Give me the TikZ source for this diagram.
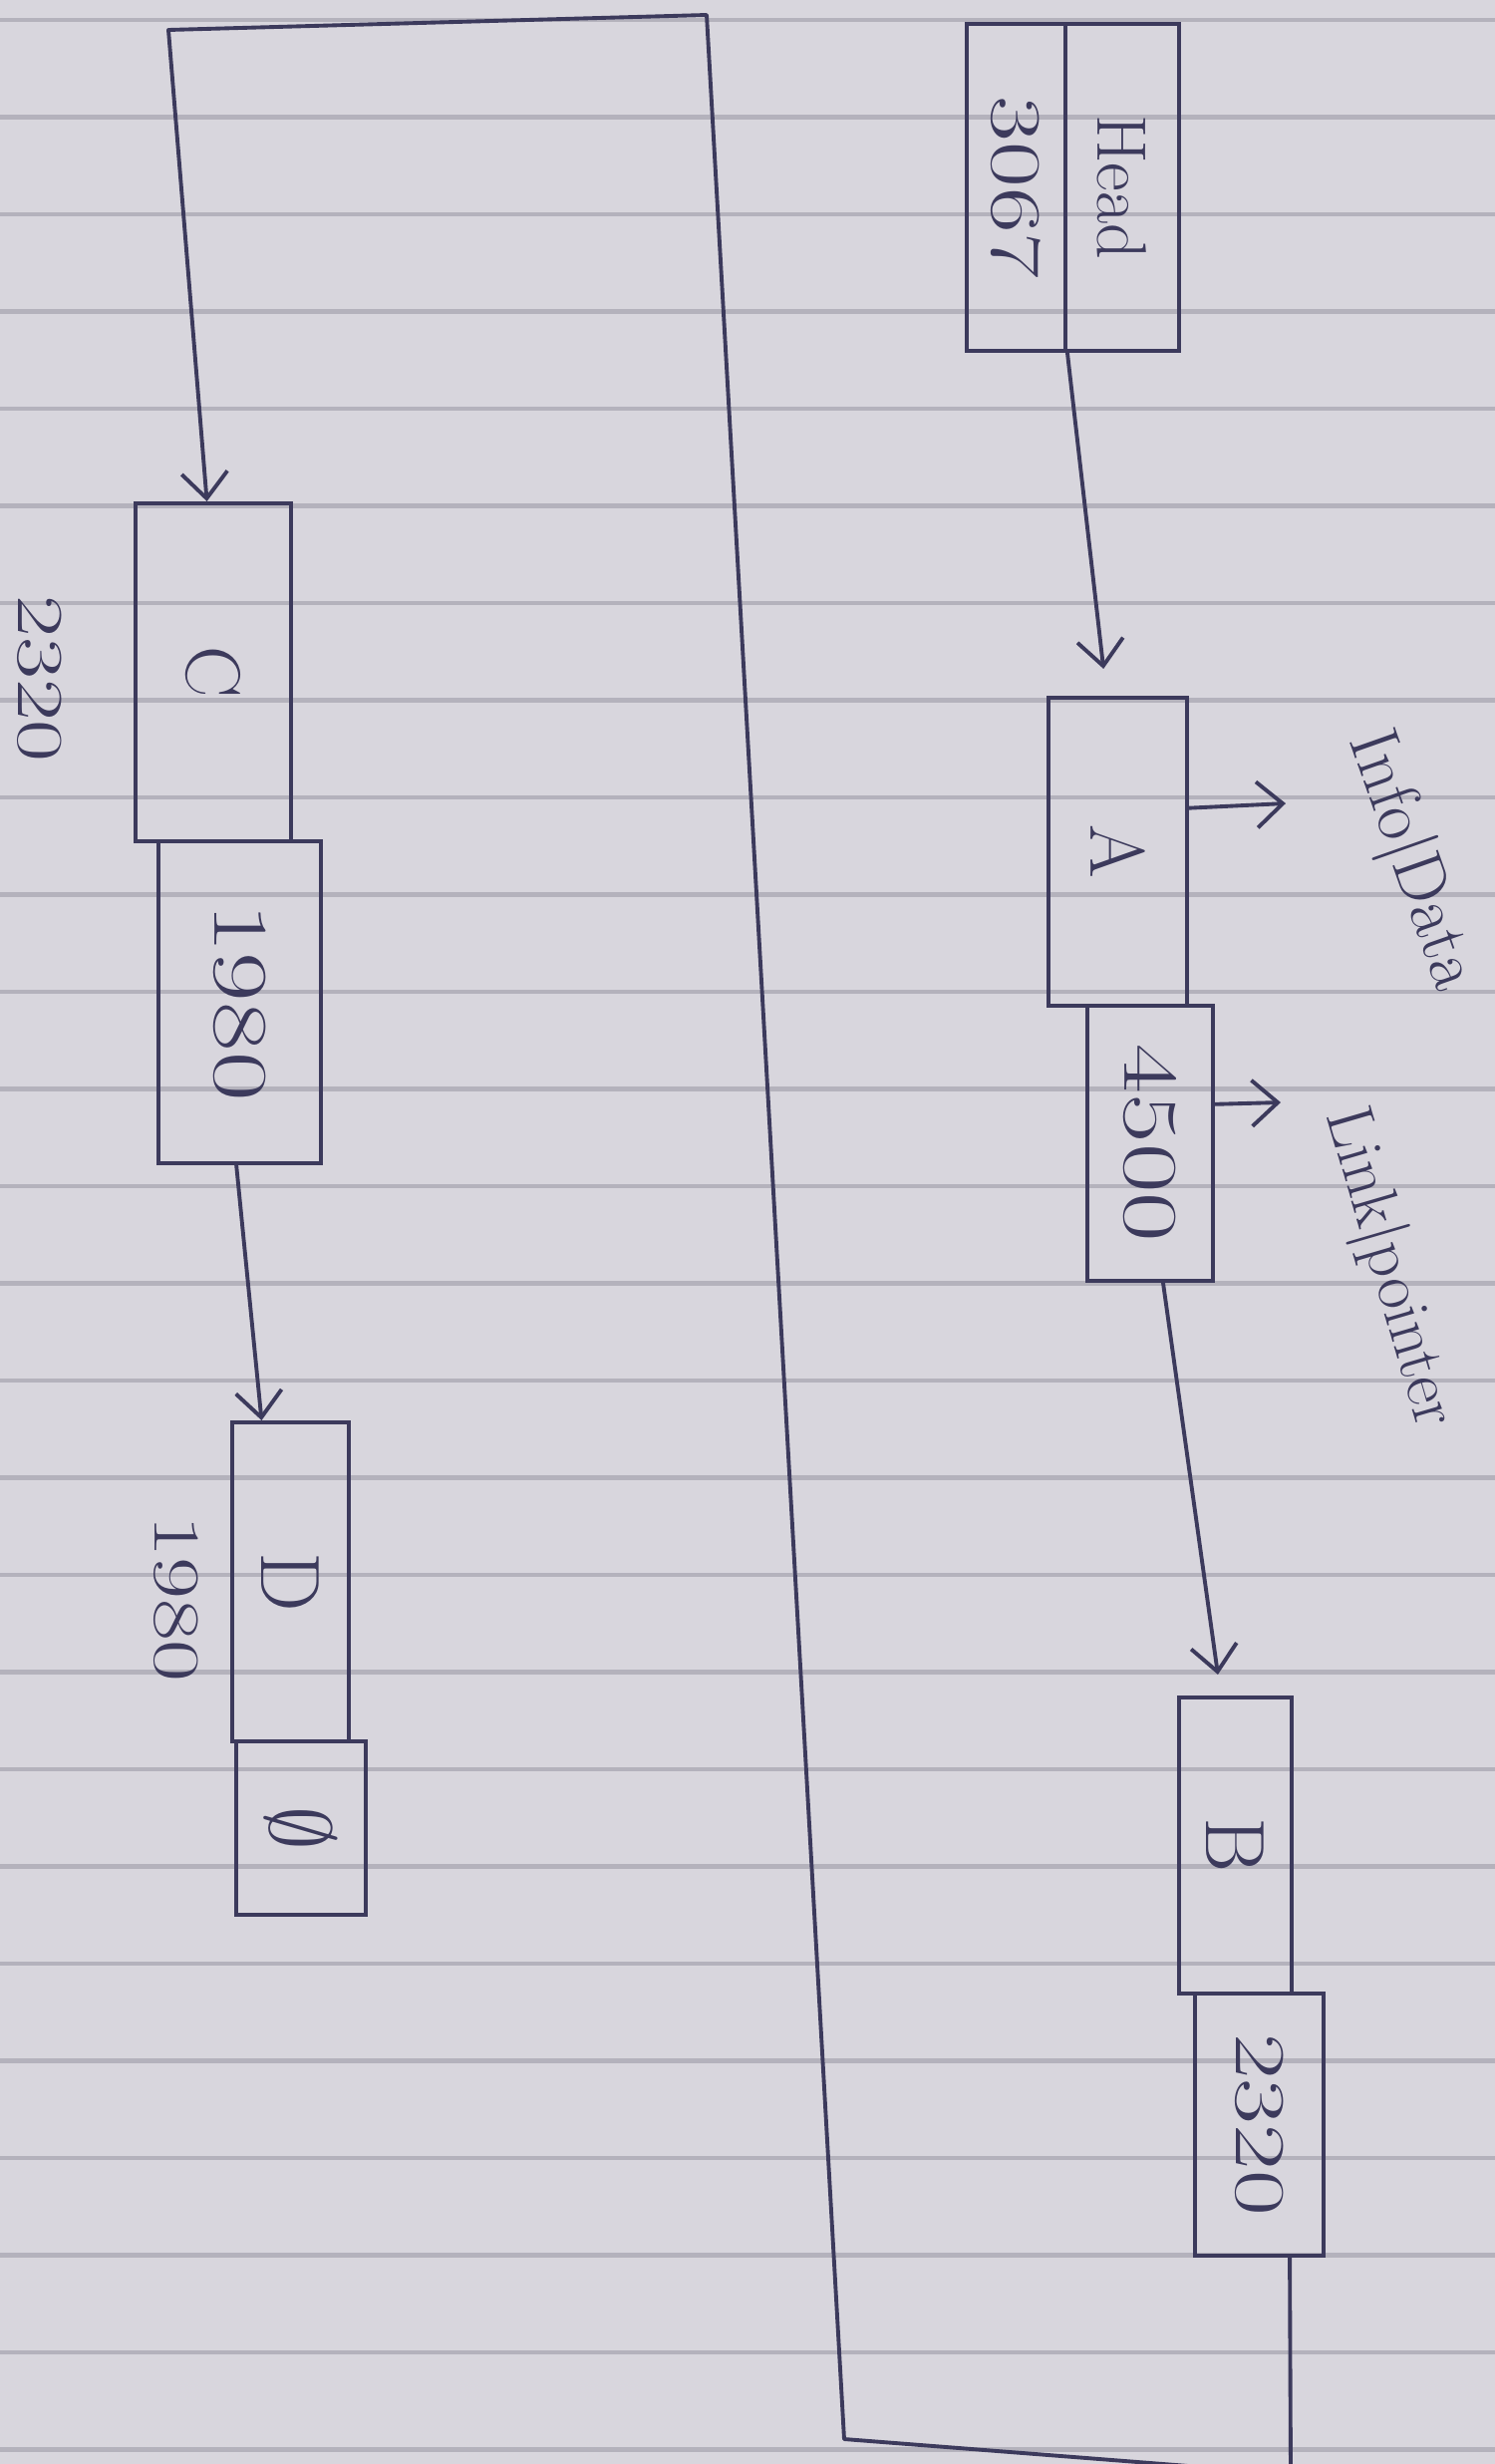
\documentclass[tikz,border=0pt]{standalone}
\usetikzlibrary{arrows.meta,calc}
\definecolor{paper}{RGB}{216,214,221}
\definecolor{rulecol}{RGB}{180,178,188}
\definecolor{ink}{RGB}{60,58,92}
\newcommand\sidetext[1]{\rotatebox{-90}{#1}}
\newcommand\widetext[1]{\rotatebox{-90}{\scalebox{1.18}[0.85]{#1}}}
\begin{document}
\begin{tikzpicture}[x=0.01cm,y=-0.01cm,
  cell/.style={draw=ink,line width=1.1pt,rectangle,inner sep=0pt,text=ink},
  conn/.style={draw=ink,line width=1.1pt,line join=round,line cap=round,-{Straight Barb[length=2.6mm,width=4.6mm,line width=1.1pt]}},
  lbl/.style={text=ink,inner sep=0pt}]
\useasboundingbox (0,0) rectangle (1500,2472);
\fill[paper] (0,0) rectangle (1500,2472);
\foreach \k in {0,...,25}
  \draw[rulecol,line width=1.3pt] (0,{20+97.5*\k}) -- (1500,{20+97.5*\k});

% Head box
\node[cell,minimum width=0.99cm,minimum height=3.28cm] (headaddr) at (1019.5,188)
  {\fontsize{24}{28}\selectfont\widetext{3067}};
\node[cell,minimum width=1.14cm,minimum height=3.28cm] (headval) at (1126,188)
  {\fontsize{20}{24}\selectfont\sidetext{Head}};

% Node A
\node[cell,minimum width=1.39cm,minimum height=3.09cm] (Adata) at (1121.5,854.5)
  {\fontsize{22}{26}\selectfont\sidetext{A}};
\node[cell,minimum width=1.26cm,minimum height=2.76cm] (Alink) at (1154,1147)
  {\fontsize{26}{30}\selectfont\widetext{4500}};

% Node B
\node[cell,minimum width=1.13cm,minimum height=2.97cm] (Bdata) at (1239.5,1851.5)
  {\fontsize{24}{28}\selectfont\sidetext{B}};
\node[cell,minimum width=1.29cm,minimum height=2.63cm] (Blink) at (1263.5,2131.5)
  {\fontsize{24}{28}\selectfont\widetext{2320}};

% Node C
\node[cell,minimum width=1.56cm,minimum height=3.39cm] (Cdata) at (214,674.5)
  {\fontsize{22}{26}\selectfont\sidetext{C}};
\node[cell,minimum width=1.63cm,minimum height=3.23cm] (Clink) at (240.5,1005.5)
  {\fontsize{26}{30}\selectfont\widetext{1980}};

% Node D
\node[cell,minimum width=1.17cm,minimum height=3.20cm] (Ddata) at (291.5,1587)
  {\fontsize{24}{28}\selectfont\sidetext{D}};
\node[cell,minimum width=1.30cm,minimum height=1.74cm] (Dlink) at (302,1834)
  {\fontsize{28}{32}\selectfont\sidetext{$\emptyset$}};

% address labels
\node[lbl] (addrC) at (40,681) {\fontsize{22}{26}\selectfont\widetext{2320}};
\node[lbl] (addrD) at (177,1604) {\fontsize{22}{26}\selectfont\widetext{1980}};

% part labels
\node[lbl,rotate=-70.6] (infolbl) at (1415,864) {\fontsize{20}{24}\selectfont Info|Data};
\node[lbl,rotate=-73.7] (linklbl) at (1393,1272) {\fontsize{19}{23}\selectfont Link|pointer};
\coordinate (infoend) at (1290,806);
\coordinate (linkend) at (1285,1106);
\draw[conn] ($(Adata.north east)!0.36!(Adata.south east)$) -- (infoend);
\draw[conn] ($(Alink.north east)!0.36!(Alink.south east)$) -- (linkend);

% connectors
\draw[conn] (headaddr.south east) -- ($(Adata.north west)!0.4!(Adata.north east)+(0,-27)$);
\draw[conn] ($(Alink.south west)!0.6!(Alink.south east)$) -- ($(Bdata.north west)!0.35!(Bdata.north east)+(0,-21)$);
\draw[conn] ($(Clink.south west)!0.48!(Clink.south east)$) -- ($(Ddata.north west)!0.26!(Ddata.north east)$);

% loop from B back to C
\coordinate (lp1) at (1295,2482);
\coordinate (lp2) at (847,2447);
\coordinate (lp3) at (709,15);
\coordinate (lp4) at (169,30);
\draw[conn] ($(Blink.south west)!0.73!(Blink.south east)$) -- (lp1) -- (lp2) -- (lp3) -- (lp4)
  -- ($(Cdata.north west)!0.46!(Cdata.north east)$);
\end{tikzpicture}
\end{document}
